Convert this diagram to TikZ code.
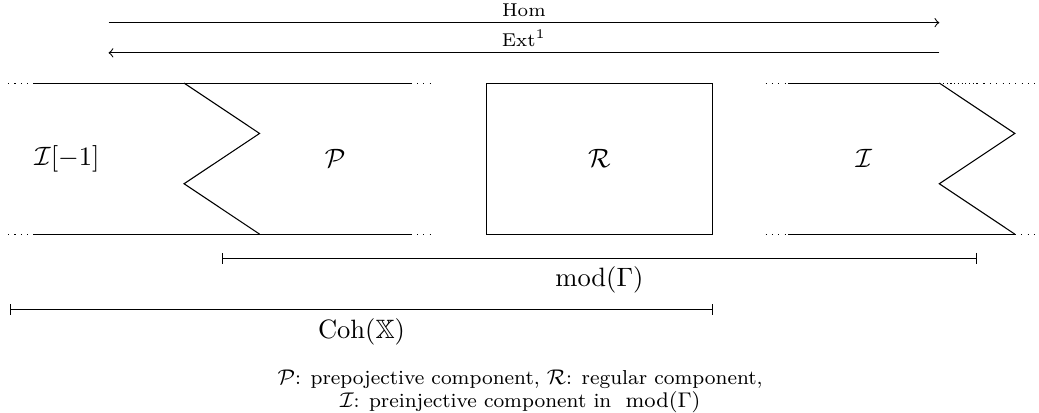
\documentclass[tikz,border=0pt]{standalone}
\usepackage{amsmath,amssymb}
\usepackage{tikz}
\usetikzlibrary{positioning,arrows.meta,calc}
\tikzset{
  dots/.style={dotted},
  span/.style={{Bar[width=4pt]}-{Bar[width=4pt]}},
  >=to,
}

\begin{document}
\begin{tikzpicture}[
  every node/.style={inner sep=3pt},
  lbl/.style={font=\scriptsize, inner sep=2pt},
]
\useasboundingbox (-0.437,-2.36) rectangle (13.32,3.10);

% I[-1] and P
\draw (0,2) -- (5,2);
\draw (0,0) -- (5,0);
\draw[dots] (-0.33,2) -- (0,2) (5,2) -- (5.3,2);
\draw[dots] (-0.33,0) -- (0,0) (5,0) -- (5.3,0);
\draw (2,2) -- (3,1.333) -- (2,0.667) -- (3,0);

% R
\draw (6,0) rectangle (9,2);

% I
\draw (10,2) -- (12,2);
\draw (10,0) -- (13,0);
\draw[dots] (9.7,2) -- (10,2) (9.7,0) -- (10,0);
\draw[densely dotted] (12,2) -- (12.5,2);
\draw[dots] (12.5,2) -- (13.33,2);
\draw[dots] (13,0) -- (13.3,0);
\draw (12,2) -- (13,1.333) -- (12,0.667) -- (13,0);

\node (Ishift) at (0.45,1) {$\mathcal{I}[-1]$};
\node (Pcomp) at (4,1) {$\mathcal{P}$};
\node (Rcomp) at (7.5,1) {$\mathcal{R}$};
\node (Icomp) at (11,1) {$\mathcal{I}$};

% Hom and Ext
\coordinate (homL) at (1,2.8);
\coordinate (homR) at (12,2.8);
\coordinate (extL) at (1,2.4);
\coordinate (extR) at (12,2.4);
\draw[->] (homL) -- node[above, lbl] {Hom} (homR);
\draw[->] (extR) -- node[above, lbl] {Ext$^1$} (extL);

% categories
\coordinate (modL) at (2.5,-0.32);
\coordinate (modR) at (12.5,-0.32);
\coordinate (cohL) at (-0.3,-1);
\coordinate (cohR) at (9,-1);
\draw[span] (modL) -- node[below] {$\mathrm{mod}(\Gamma)$} (modR);
\draw[span] (cohL) -- node[below] {$\mathrm{Coh}(\mathbb{X})$} (cohR);

\node[align=center, font=\fontsize{7.6}{7}\selectfont, inner sep=0pt] (caption) at (6.45,-2.08)
  {$\mathcal{P}$: prepojective component, $\mathcal{R}$: regular component,\\
   $\mathcal{I}$: preinjective component in \ $\mathrm{mod}(\Gamma)$};
\end{tikzpicture}
\end{document}
